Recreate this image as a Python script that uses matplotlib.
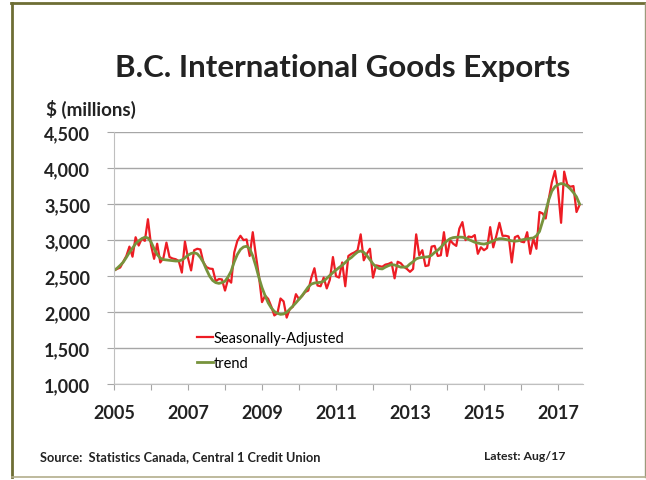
import numpy as np
import matplotlib.pyplot as plt
from matplotlib.lines import Line2D

plt.rcParams['font.family'] = ['Lato', 'DejaVu Sans']

# monthly, Jan 2005 .. Aug 2017 ($ millions)
seas_adj = [
    2580, 2600, 2620, 2700, 2780, 2910, 2770, 3040, 2925, 3020, 2990, 3290,  # 2005
    2930, 2740, 2950, 2690, 2750, 2965, 2765, 2745, 2735, 2710, 2550, 2980,  # 2006
    2750, 2580, 2860, 2880, 2870, 2690, 2625, 2605, 2600, 2430, 2460, 2455,  # 2007
    2300, 2460, 2410, 2830, 2990, 3060, 3000, 3010, 2780, 3110, 2790, 2500,  # 2008
    2140, 2230, 2185, 2080, 1955, 1985, 2190, 2150, 1925, 2045, 2075, 2250,  # 2009
    2180, 2225, 2280, 2300, 2480, 2610, 2370, 2360, 2480, 2330, 2450, 2765,  # 2010
    2500, 2480, 2690, 2360, 2780, 2810, 2830, 2860, 3080, 2720, 2810, 2880,  # 2011
    2480, 2650, 2640, 2630, 2660, 2670, 2690, 2470, 2700, 2680, 2630, 2600,  # 2012
    2560, 2600, 3080, 2790, 2860, 2640, 2650, 2910, 2920, 2780, 2790, 3110,  # 2013
    2780, 3000, 2950, 2920, 3160, 3250, 3000, 3050, 3040, 3070, 2810, 2900,  # 2014
    2860, 2890, 3180, 2900, 3060, 3240, 3060, 3060, 3050, 2690, 3040, 3060,  # 2015
    2980, 2970, 3110, 2810, 3020, 2880, 3390, 3370, 3300, 3570, 3800, 3960,  # 2016
    3700, 3240, 3950, 3770, 3740, 3750, 3390, 3490,                          # 2017
]
trend = [
    2580, 2610, 2650, 2695, 2760, 2830, 2890, 2950, 2990, 3020, 3040, 3030,
    2975, 2880, 2800, 2750, 2730, 2725, 2720, 2715, 2710, 2710, 2725, 2755,
    2790, 2815, 2825, 2810, 2760, 2690, 2590, 2500, 2440, 2410, 2400, 2410,
    2430, 2490, 2570, 2700, 2800, 2870, 2905, 2915, 2880, 2780, 2640, 2480,
    2340, 2230, 2130, 2060, 2010, 1985, 1970, 1975, 2000, 2040, 2085, 2130,
    2180, 2230, 2290, 2350, 2390, 2405, 2410, 2415, 2430, 2470, 2510, 2550,
    2585, 2620, 2650, 2690, 2730, 2760, 2800, 2835, 2850, 2830, 2785, 2730,
    2670, 2630, 2605, 2600, 2625, 2645, 2660, 2655, 2640, 2625, 2625, 2630,
    2670, 2700, 2740, 2755, 2760, 2765, 2770, 2790, 2830, 2860, 2900, 2950,
    2990, 3020, 3035, 3040, 3042, 3040, 3030, 3010, 2990, 2970, 2960, 2950,
    2945, 2955, 2970, 2990, 3010, 3020, 3020, 3010, 3000, 2990, 2985, 2990,
    3000, 3010, 3015, 3025, 3030, 3060, 3120, 3260, 3400, 3560, 3680, 3740,
    3770, 3785, 3775, 3750, 3710, 3660, 3600, 3500,
]
years = list(range(2005, 2018))
year_labels = [str(y) if y % 2 == 1 else "" for y in years]
y_ticks = [1000, 1500, 2000, 2500, 3000, 3500, 4000, 4500]

t = 2005 + np.arange(len(seas_adj)) / 12.0

fig = plt.figure(figsize=(6.46, 4.81), dpi=100)
ax = fig.add_axes([0.1765, 0.199, 0.726, 0.5245])

ax.plot(t, seas_adj, color="#ed1c24", lw=1.6, label="Seasonally-Adjusted")
ax.plot(t, trend, color="#77933c", lw=2.0, label="trend")

ax.set_xlim(2005, 2017.676)
ax.set_ylim(1000, 4500)
ax.set_xticks(years)
ax.set_xticklabels(year_labels, fontsize=13, fontweight="bold", color="#222222")
ax.set_yticks(y_ticks)
ax.set_yticklabels(["{:,}".format(v) for v in y_ticks], fontsize=13, fontweight="bold", color="#222222")
ax.tick_params(axis="x", length=4, color="#a6a6a6", pad=10)
ax.tick_params(axis="y", length=5, color="#a6a6a6", pad=12)
ax.grid(axis="y", color="#a6a6a6", lw=1)
ax.set_axisbelow(True)
for s in ["top", "right"]:
    ax.spines[s].set_visible(False)
for s in ["left", "bottom"]:
    ax.spines[s].set_color("#bfbfbf")

ax.legend(loc="upper left", bbox_to_anchor=(0.165, 0.235), frameon=False, fontsize=10.5,
          handlelength=1.1, handletextpad=0.0, labelspacing=0.75, borderaxespad=0)

fig.text(0.53, 0.859, "B.C. International Goods Exports", ha="center", va="center",
         fontsize=22.5, fontweight="bold", color="#222222")
fig.text(0.071, 0.772, "$ (millions)", ha="left", va="center", fontsize=13.5,
         fontweight="bold", color="#222222")
fig.text(0.062, 0.05, "Source:  Statistics Canada, Central 1 Credit Union", ha="left",
         va="center", fontsize=9.2, fontweight="bold", color="#222222")
fig.text(0.875, 0.05, "Latest: Aug/17", ha="right", va="center", fontsize=8.8,
         fontweight="bold", color="#222222")

# frame
fig.add_artist(Line2D([0.019, 0.019], [0.006, 0.991], color="#6e6e34", lw=2))
fig.add_artist(Line2D([0.017, 1.0], [0.991, 0.991], color="#6e6e34", lw=2))
fig.add_artist(Line2D([0.998, 0.998], [0.006, 0.991], color="#9c9a7c", lw=1))
fig.add_artist(Line2D([0.019, 1.0], [0.006, 0.006], color="#b3ae8c", lw=1.2))

fig.savefig("out.png", dpi=100)
